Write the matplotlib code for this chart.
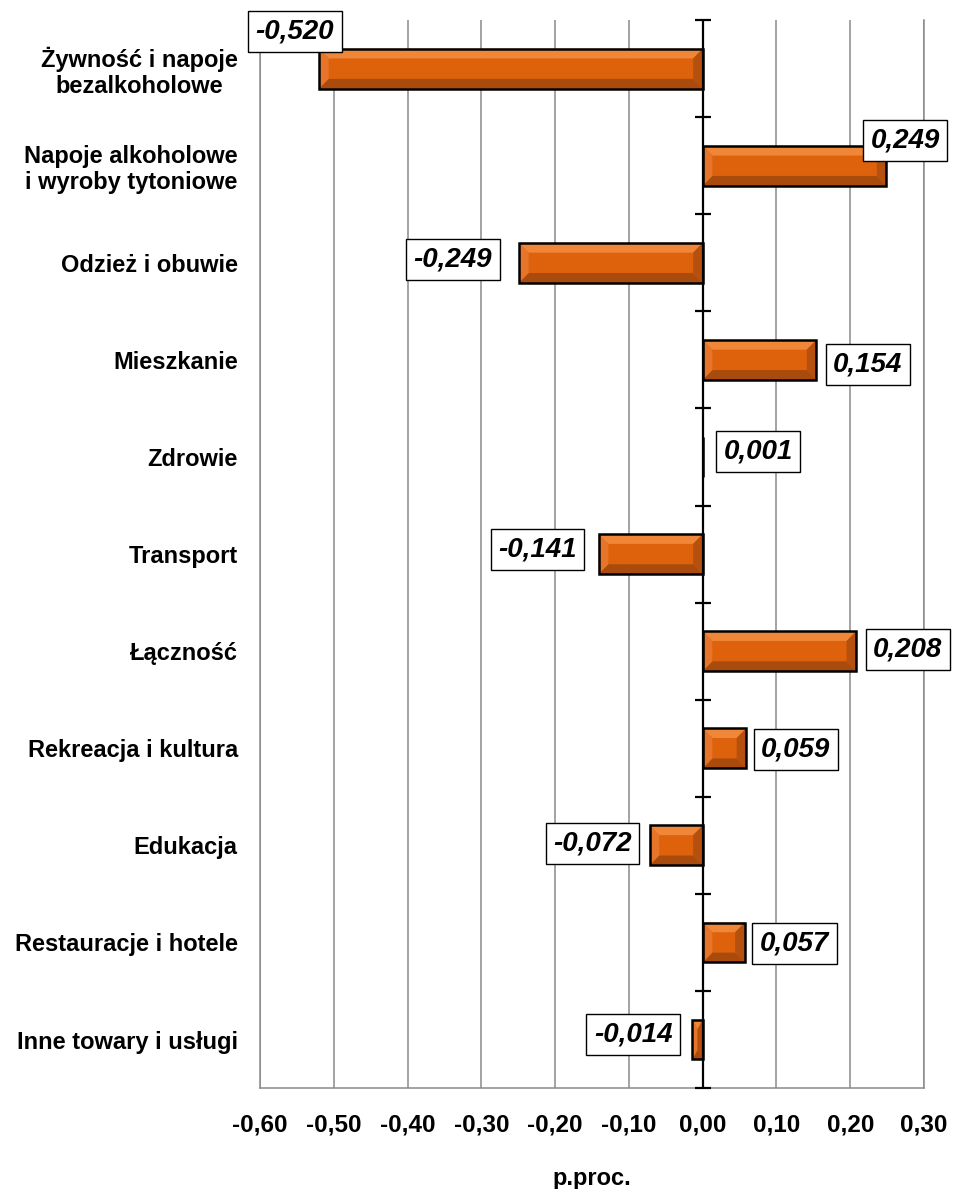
import numpy as np
import matplotlib
matplotlib.use("Agg")
import matplotlib.pyplot as plt
from matplotlib.patches import Polygon

# data
categories = ["Żywność i napoje\nbezalkoholowe", "Napoje alkoholowe\ni wyroby tytoniowe",
              "Odzież i obuwie", "Mieszkanie", "Zdrowie", "Transport", "Łączność",
              "Rekreacja i kultura", "Edukacja", "Restauracje i hotele",
              "Inne towary i usługi"]
values = [-0.520, 0.249, -0.249, 0.154, 0.001, -0.141, 0.208, 0.059, -0.072, 0.057, -0.014]
xticks = [-0.6, -0.5, -0.4, -0.3, -0.2, -0.1, 0.0, 0.1, 0.2, 0.3]
xticklabels = ["-0,60", "-0,50", "-0,40", "-0,30", "-0,20", "-0,10", "0,00", "0,10", "0,20", "0,30"]

# label placement (pixels): gap between bar end and box, vertical shift
label_gap = [-23, -24, 19, 9, 12, 14, 9, 7, 10, 7, 12]
label_dy = [-37, -25, -3, 5, -5, -5, -2, 1, -2, 1, -5]

plt.rcParams['font.family'] = ['Liberation Sans', 'DejaVu Sans']

fig = plt.figure(figsize=(9.55, 11.89), dpi=100)
ax = fig.add_axes([0.2723, 0.0849, 0.6953, 0.8982])

n = len(values)
ypos = np.arange(n)
h = 0.41
bev_x, bev_y = 0.013, 0.1

ax.set_xlim(-0.6, 0.3)
ax.set_ylim(n - 0.5, -0.5)

# bars with a bevel look
ax.barh(ypos, values, height=h, color='#DE620C', edgecolor='none', zorder=3)
for y, v in zip(ypos, values):
    x0, x1 = min(0, v), max(0, v)
    bx = min(bev_x, abs(v) / 2)
    yt, yb = y - h / 2, y + h / 2
    if bx > 0.0005:
        faces = [
            ([(x0, yt), (x1, yt), (x1 - bx, yt + bev_y), (x0 + bx, yt + bev_y)], '#F08638'),
            ([(x0, yb), (x1, yb), (x1 - bx, yb - bev_y), (x0 + bx, yb - bev_y)], '#A84B0C'),
            ([(x0, yt), (x0 + bx, yt + bev_y), (x0 + bx, yb - bev_y), (x0, yb)], '#E6752A'),
            ([(x1, yt), (x1 - bx, yt + bev_y), (x1 - bx, yb - bev_y), (x1, yb)], '#B5500E'),
        ]
        for pts, c in faces:
            ax.add_patch(Polygon(pts, closed=True, facecolor=c, edgecolor='none', zorder=3.5))
ax.barh(ypos, values, height=h, fill=False, edgecolor='black', linewidth=1.8, zorder=4)

# grid and axes
ax.set_xticks(xticks)
ax.set_xticklabels(xticklabels, fontsize=17.5, fontweight='bold')
ax.grid(axis='x', color='#8A8A8A', linewidth=1.1, zorder=0)
ax.set_axisbelow(True)
ax.spines['top'].set_visible(False)
for s in ['left', 'right', 'bottom']:
    ax.spines[s].set_color('#8A8A8A')
    ax.spines[s].set_linewidth(1.1)
ax.tick_params(axis='x', length=0, pad=18)

ax.set_yticks(ypos)
ax.set_yticklabels(categories, fontsize=17, fontweight='bold')
for lbl in ax.get_yticklabels():
    lbl.set_multialignment('center')
    lbl.set_linespacing(1.15)
ax.tick_params(axis='y', length=0, pad=16)

ax.set_xlabel("p.proc.", fontsize=17, fontweight='bold', labelpad=22)

# zero axis with crossing ticks
ax.axvline(0, color='black', linewidth=1.6, zorder=5)
bounds = np.arange(n + 1) - 0.5
ax.plot(np.zeros(n + 1), bounds, ls='none', marker='_', ms=11.5, mew=1.6,
        color='black', clip_on=False, zorder=6)

# value labels
pad_px = 8
for y, v, g, dy in zip(ypos, values, label_gap, label_dy):
    txt = f"{v:.3f}".replace('.', ',')
    if v < 0:
        dx, ha = -(g + pad_px), 'right'
    else:
        dx, ha = g + pad_px, 'left'
    ax.annotate(txt, xy=(v, y), xytext=(dx * 0.72, -dy * 0.72), textcoords='offset points',
                ha=ha, va='center', fontsize=20, fontweight='bold', fontstyle='italic',
                bbox=dict(boxstyle='square,pad=0.27', fc='white', ec='black', lw=1),
                zorder=7, annotation_clip=False)

fig.savefig("out.png", dpi=100)
